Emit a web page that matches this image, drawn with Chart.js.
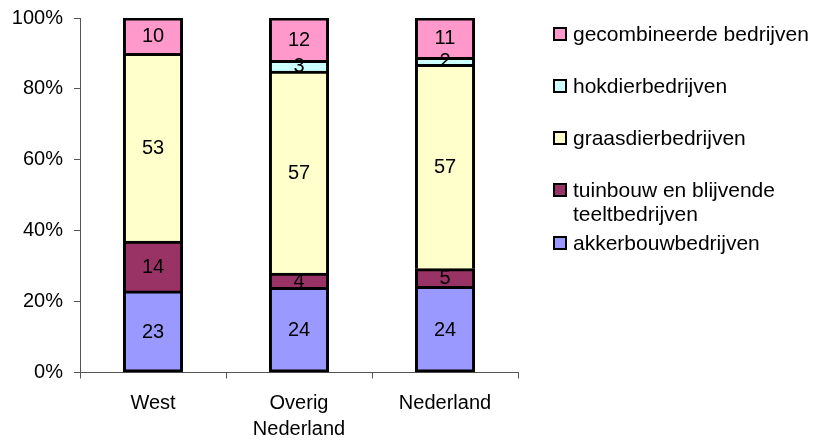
<!DOCTYPE html>
<html>
<head>
<meta charset="utf-8">
<script src="https://cdn.jsdelivr.net/npm/chart.js@4/dist/chart.umd.min.js"></script>
<style>
  html, body { margin: 0; padding: 0; background: #fff; }
  #wrap { width: 814px; height: 442px; position: relative; }
</style>
</head>
<body>
<div id="wrap"><canvas id="c" width="814" height="442"></canvas></div>
<script>
// ---- data ----
const categories = ['West', ['Overig', 'Nederland'], 'Nederland'];
const akkerbouw = [23, 24, 24];
const tuinbouw = [14, 4, 5];
const graasdier = [53, 57, 57];
const hokdier = [0, 3, 2];
const gecombineerd = [10, 12, 11];
const seriesNames = [
  'akkerbouwbedrijven',
  ['tuinbouw en blijvende', 'teeltbedrijven'],
  'graasdierbedrijven',
  'hokdierbedrijven',
  'gecombineerde bedrijven'
];
const seriesColors = ['#9999FF', '#993366', '#FFFFCC', '#CCFFFF', '#FF99CC'];
const yTicks = [0, 20, 40, 60, 80, 100];

const series = [akkerbouw, tuinbouw, graasdier, hokdier, gecombineerd];
const totals = categories.map((_, i) => series.reduce((s, arr) => s + arr[i], 0));

const FONT = "'Liberation Sans', Arial, sans-serif";

const datasets = series.map((arr, k) => ({
  label: seriesNames[k],
  data: arr.map((v, i) => v / totals[i] * 100),
  rawValues: arr,
  backgroundColor: seriesColors[k],
  borderColor: '#000',
  borderWidth: 3,
  borderSkipped: k === 0 ? false : 'start',
  categoryPercentage: 1,
  barPercentage: 0.405,
  inflateAmount: 0.5
}));

const valueLabels = {
  id: 'valueLabels',
  afterDatasetsDraw(chart) {
    const ctx = chart.ctx;
    ctx.save();
    ctx.font = '20px ' + FONT;
    ctx.fillStyle = '#000';
    ctx.textAlign = 'center';
    ctx.textBaseline = 'middle';
    chart.data.datasets.forEach((ds, di) => {
      const meta = chart.getDatasetMeta(di);
      meta.data.forEach((el, i) => {
        const v = ds.rawValues[i];
        if (!v) return;
        const p = el.getProps(['x', 'y', 'base'], true);
        ctx.fillText(String(v), p.x, (p.y + p.base) / 2 + 1);
      });
    });
    ctx.restore();
  }
};

const sideLegend = {
  id: 'sideLegend',
  afterDraw(chart) {
    const ctx = chart.ctx;
    const rows = [34, 86, 138, 190, 243]; // top-to-bottom text centre rows
    const order = [4, 3, 2, 1, 0];
    ctx.save();
    ctx.font = '21px ' + FONT;
    ctx.textAlign = 'left';
    ctx.textBaseline = 'middle';
    order.forEach((di, r) => {
      const ds = chart.data.datasets[di];
      const y = rows[r];
      ctx.fillStyle = ds.backgroundColor;
      ctx.fillRect(554, y - 6, 12, 12);
      ctx.strokeStyle = '#000';
      ctx.lineWidth = 2;
      ctx.strokeRect(554, y - 6, 12, 12);
      ctx.fillStyle = '#000';
      const lines = Array.isArray(ds.label) ? ds.label : [ds.label];
      lines.forEach((t, j) => ctx.fillText(t, 573, y + 1 + j * 24));
    });
    ctx.restore();
  }
};

new Chart(document.getElementById('c'), {
  type: 'bar',
  data: { labels: categories, datasets },
  options: {
    responsive: false,
    animation: false,
    layout: { padding: { top: 18, right: 296, left: 0, bottom: 0 } },
    plugins: { legend: { display: false }, tooltip: { enabled: false } },
    scales: {
      x: {
        stacked: true,
        grid: { drawOnChartArea: false, tickLength: 6, color: '#555', offset: true },
        border: { color: '#555', width: 1 },
        ticks: { color: '#000', font: { size: 20, family: FONT, lineHeight: 1.3 }, padding: 12, maxRotation: 0 },
        afterFit(s) { s.height = 69.5; }
      },
      y: {
        stacked: true,
        min: 0, max: 100,
        afterBuildTicks(s) { s.ticks = yTicks.map(v => ({ value: v })); },
        grid: { drawOnChartArea: false, tickLength: 6, color: '#555' },
        border: { color: '#555', width: 1 },
        ticks: { color: '#000', font: { size: 20, family: FONT, lineHeight: 0.7 }, padding: 11, callback: v => v + '%' },
        afterFit(s) { s.width = 80; }
      }
    }
  },
  plugins: [valueLabels, sideLegend]
});
</script>
</body>
</html>
